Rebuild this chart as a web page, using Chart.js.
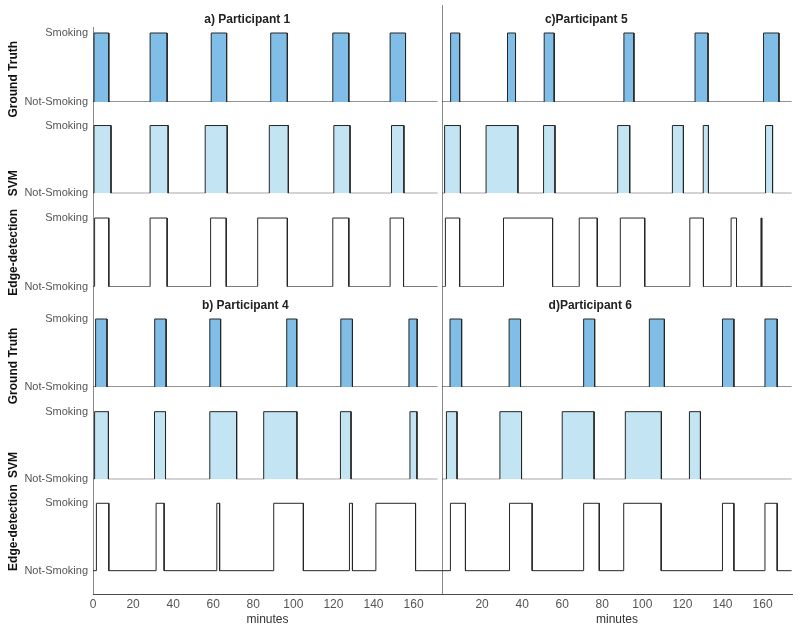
<!DOCTYPE html>
<html>
<head>
<meta charset="utf-8">
<script src="https://cdn.jsdelivr.net/npm/chart.js@4.4.0/dist/chart.umd.min.js"></script>
<style>
  html, body { margin: 0; padding: 0; background: #fff; }
  #wrap { position: relative; width: 800px; height: 631px; overflow: hidden; background: #fff; }
  canvas { position: absolute; top: 0; }
  #left { left: 0; }
  #right { left: 438px; }
</style>
</head>
<body>
<div id="wrap">
  <canvas id="left" width="445" height="631"></canvas>
  <canvas id="right" width="357" height="631"></canvas>
</div>
<script>
// x axis ticks (minutes) and y state labels
const X_TICKS_LEFT = [0, 20, 40, 60, 80, 100, 120, 140, 160];
const X_TICKS_RIGHT = [20, 40, 60, 80, 100, 120, 140, 160];
const ROW_NAMES = ['Ground Truth', 'SVM', 'Edge-detection'];
const STATE_LABELS = ['Not-Smoking', 'Smoking'];
const PANEL_TITLES = ['a) Participant 1', 'b) Participant 4', 'c)Participant 5', 'd)Participant 6'];

// smoking episodes as [start, end] in minutes
const P1_TRUTH = [[0.5, 7.9], [28.5, 37], [59, 66.7], [88.7, 97], [119.7, 127.7], [148.3, 156]];
const P1_SVM   = [[0.5, 9], [28.5, 37.5], [56, 67], [88, 97.5], [120.2, 128.3], [149, 155.2]];
const P1_EDGE  = [[0.8, 7.9], [28.5, 37], [58.7, 66.5], [82.2, 97], [119.7, 127.7], [148.3, 155]];

const P4_TRUTH = [[1.3, 7], [30.8, 36.5], [58.3, 63.7], [96.7, 101.7], [123.7, 129.5], [157.7, 161.8]];
const P4_SVM   = [[0.8, 7.7], [30.7, 36.2], [58.3, 71.7], [85.2, 101.8], [123.5, 128.8], [158.2, 161.7]];
const P4_EDGE  = [[1.7, 7.9], [31.5, 35.5], [61.8, 63.2], [90.2, 105], [128, 129.5], [141.2, 161]];

const P5_TRUTH = [[4.3, 8.8], [32.7, 36.7], [51, 56], [90.8, 95.8], [126.3, 132.8], [160.5, 168.2]];
const P5_SVM   = [[1.3, 9.2], [22, 37.9], [50.7, 56.4], [87.7, 93.7], [115, 120.5], [130.4, 133], [161.5, 165]];
const P5_EDGE  = [[1.7, 8.8], [30.7, 55.2], [68.5, 77.5], [89, 101.2], [123.7, 130.5], [144.3, 147], [159.2, 159.6]];

const P6_TRUTH = [[4, 9.8], [33.5, 39.2], [70.7, 76.2], [103.5, 111], [140, 145.7], [161.2, 167.3]];
const P6_SVM   = [[2.2, 7.5], [28.9, 39.7], [60, 75.9], [91.5, 109.5], [123.5, 129]];
const P6_EDGE  = [[4.2, 11.7], [33.7, 45], [70.7, 78.5], [90.7, 109.4], [140, 145.7], [161.2, 167.3]];

// end of recording per row
const LEFT_ENDS = [172, 172, 172, 172, 172, 174.2];
const RIGHT_ENDS = [174.5, 174.5, 174.5, 174.5, 174.5, 174.5];

// layout: row box heights (stack weights) and y ranges
const LEFT_BOX = [75, 91.3, 93.4, 100.3, 92.3, 114.7];
const RIGHT_BOX = [97, 91.3, 93.4, 100.3, 92.3, 114.7];
const LEFT_YMAX = [1.087, 1.347, 1.36, 1.475, 1.365, 1.356];
const RIGHT_YMAX = [1.406, 1.347, 1.36, 1.475, 1.365, 1.356];
const Y_MIN = [0, 0, 0, 0, 0, -0.346];

const FILLS = ['#80bee7', '#c3e5f3', null];
const LINE = '#262626';

Chart.defaults.font.family = '"Liberation Sans", Arial, sans-serif';
Chart.defaults.color = '#555';

// step trace for one row
function pulseTrace(pulses, end) {
    const pts = [{x: 0, y: 0}];
    pulses.forEach(([s, e]) => {
        pts.push({x: s, y: 0}, {x: s, y: 1}, {x: e, y: 1}, {x: e, y: 0});
    });
    pts.push({x: end, y: 0});
    return pts;
}

function textPlugin(titles, rowLabels) {
    return {
        id: 'panelText',
        afterDraw(chart) {
            const ctx = chart.ctx;
            const xs = chart.scales.x;
            ctx.save();
            ctx.textAlign = 'center';
            ctx.textBaseline = 'middle';
            ctx.font = 'bold 12px "Liberation Sans", Arial, sans-serif';
            ctx.fillStyle = '#222';
            titles.forEach(t => {
                const y = chart.scales[t.axis].getPixelForValue(1) - 13.5;
                ctx.fillText(t.text, xs.getPixelForValue(t.at), y);
            });
            ctx.fillStyle = '#111';
            rowLabels.forEach(r => {
                const y = chart.scales[r.axis].getPixelForValue(r.at);
                ctx.save();
                ctx.translate(13.5, y);
                ctx.rotate(-Math.PI / 2);
                ctx.fillText(r.text, 0, 0);
                ctx.restore();
            });
            ctx.restore();
        }
    };
}

function makeColumn(canvasId, cfg) {
    const ids = ['r0', 'r1', 'r2', 'r3', 'r4', 'r5'];
    const datasets = cfg.rows.map((pulses, i) => {
        const fill = FILLS[i % 3];
        return {
            data: pulseTrace(pulses, cfg.ends[i]),
            yAxisID: ids[i],
            borderColor: LINE,
            borderWidth: 1,
            backgroundColor: fill || 'transparent',
            fill: fill ? 'origin' : false,
            pointRadius: 0,
            tension: 0
        };
    });
    const scales = {
        x: {
            type: 'linear',
            position: 'bottom',
            min: 0,
            max: cfg.xMax,
            afterBuildTicks: s => { s.ticks = cfg.xTicks.map(v => ({value: v})); },
            grid: {display: false, drawTicks: false},
            border: {display: true, color: '#4a4a4a'},
            ticks: {font: {size: 12}, color: '#555', padding: 3, maxRotation: 0, autoSkip: false},
            title: {display: true, text: 'minutes', font: {size: 12}, color: '#333', padding: {top: 0, bottom: 4}},
            afterFit: s => { s.height = 37; }
        }
    };
    ids.forEach((id, i) => {
        scales[id] = {
            type: 'linear',
            position: 'left',
            stack: 'rows',
            stackWeight: cfg.box[i],
            weight: 10 - i,
            min: Y_MIN[i],
            max: cfg.yMax[i],
            afterBuildTicks: s => { s.ticks = [{value: 0}, {value: 1}]; },
            grid: {display: false, drawTicks: false},
            border: {display: true, color: '#8a8a8a'},
            ticks: {
                display: cfg.showY,
                callback: v => STATE_LABELS[v],
                font: {size: 11},
                color: '#555',
                padding: 5
            },
            afterFit: s => { s.width = cfg.yWidth; }
        };
    });
    return new Chart(document.getElementById(canvasId), {
        type: 'line',
        data: {datasets},
        options: {
            responsive: false,
            animation: false,
            layout: {padding: cfg.padding},
            plugins: {legend: {display: false}, tooltip: {enabled: false}},
            scales
        },
        plugins: [textPlugin(cfg.titles, cfg.rowLabels)]
    });
}

makeColumn('left', {
    rows: [P1_TRUTH, P1_SVM, P1_EDGE, P4_TRUTH, P4_SVM, P4_EDGE],
    ends: LEFT_ENDS,
    xMax: 174.2,
    xTicks: X_TICKS_LEFT,
    box: LEFT_BOX,
    yMax: LEFT_YMAX,
    showY: true,
    yWidth: 93,
    padding: {top: 27, left: 0, right: 3, bottom: 0},
    titles: [
        {text: PANEL_TITLES[0], axis: 'r0', at: 77},
        {text: PANEL_TITLES[1], axis: 'r3', at: 76}
    ],
    rowLabels: [
        {text: ROW_NAMES[0], axis: 'r0', at: 0.33},
        {text: ROW_NAMES[1], axis: 'r1', at: 0.15},
        {text: ROW_NAMES[2], axis: 'r2', at: 0.5},
        {text: ROW_NAMES[0], axis: 'r3', at: 0.31},
        {text: ROW_NAMES[1], axis: 'r4', at: 0.21},
        {text: ROW_NAMES[2], axis: 'r5', at: 0.64}
    ]
});

makeColumn('right', {
    rows: [P5_TRUTH, P5_SVM, P5_EDGE, P6_TRUTH, P6_SVM, P6_EDGE],
    ends: RIGHT_ENDS,
    xMax: 174.7,
    xTicks: X_TICKS_RIGHT,
    box: RIGHT_BOX,
    yMax: RIGHT_YMAX,
    showY: false,
    yWidth: 1,
    padding: {top: 5, left: 3, right: 3, bottom: 0},
    titles: [
        {text: PANEL_TITLES[2], axis: 'r0', at: 72},
        {text: PANEL_TITLES[3], axis: 'r3', at: 74}
    ],
    rowLabels: []
});
</script>
</body>
</html>
